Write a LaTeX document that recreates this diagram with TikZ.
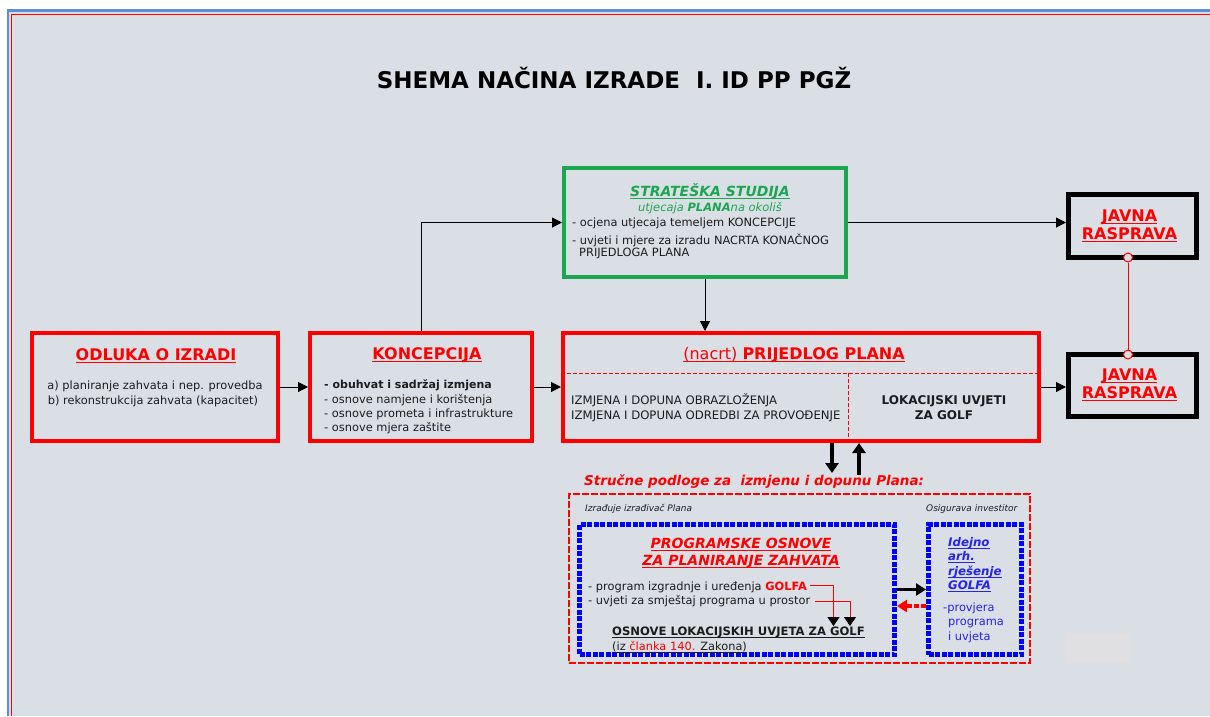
\documentclass[tikz,border=0pt]{standalone}
\usepackage{fontspec}
\setmainfont{DejaVu Sans}
\usepackage{tikz}
\usetikzlibrary{arrows.meta,calc}

\definecolor{bggrey}{RGB}{218,223,230}
\definecolor{frameblue}{RGB}{91,141,217}
\definecolor{sgreen}{RGB}{27,166,80}
\definecolor{linkblue}{RGB}{35,35,235}
\definecolor{txt}{RGB}{28,28,28}
\definecolor{patchgrey}{RGB}{224,224,226}

\newcommand{\fsz}[1]{\fontsize{#1pt}{#1pt}\selectfont}
\newsavebox{\crtabox}
\newcommand{\crta}[1]{\sbox{\crtabox}{#1}\rlap{\rule[-2.5pt]{\wd\crtabox}{1pt}}\usebox{\crtabox}}

\begin{document}
\begin{tikzpicture}[x=1pt,y=-1pt,
	okvir/.style={rectangle,inner sep=0pt,line width=4pt},
	crveniokvir/.style={okvir,draw=red},
	zeleniokvir/.style={okvir,draw=sgreen},
	crniokvir/.style={okvir,draw=black,line width=5pt},
	plaviokvir/.style={okvir,draw=blue,line width=5pt,dash pattern=on 5pt off 1.5pt},
	podlogeokvir/.style={okvir,draw=red,line width=2pt,dash pattern=on 7pt off 2pt},
	tekst/.style={inner sep=0pt,text=txt,font=\fsz{11.4},anchor=base west},
	naslov/.style={inner sep=0pt,text=red,font=\bfseries\fsz{16},anchor=base},
	strelica/.style={line width=1pt,-{Triangle[length=10pt,width=10pt]}},
	debelastrelica/.style={line width=4pt,-{Triangle[length=10pt,width=13pt]}},
	kruzic/.style={circle,draw=red,fill=bggrey,line width=1pt,inner sep=0pt,minimum size=9pt}]
	
	\useasboundingbox (0,0) rectangle (1210,716);
	\fill[white] (0,0) rectangle (1210,716);
	\fill[bggrey] (7,10) rectangle (1210,716);
	\draw[frameblue,line width=2.2pt] (7.8,716) -- (7.8,10.5) -- (1210,10.5);
	\draw[red,line width=1pt] (11.7,716) -- (11.7,14.7) -- (1210,14.7);
	\fill[patchgrey] (1065,633) rectangle (1130,663);
	
	\node[inner sep=0pt,text=black,font=\bfseries\fsz{23},anchor=base] (shema) at (614,88) {SHEMA NAČINA IZRADE\ \ I. ID PP PGŽ};
	
	\node[crveniokvir,minimum width=246.5pt,minimum height=108pt] (odluka) at (154.75,387) {};
	\node[crveniokvir,minimum width=222pt,minimum height=108pt] (koncepcija) at (421,387) {};
	\node[crveniokvir,minimum width=476pt,minimum height=108pt] (prijedlog) at (801,387) {};
	\node[zeleniokvir,minimum width=282pt,minimum height=109pt] (studija) at (705,222.5) {};
	\node[crniokvir,minimum width=128pt,minimum height=63pt] (javna1) at (1132.5,226) {};
	\node[crniokvir,minimum width=128pt,minimum height=62pt] (javna2) at (1132.5,385.5) {};
	\node[podlogeokvir,minimum width=461pt,minimum height=169pt] (podloge) at (799.5,578.5) {};
	\node[plaviokvir,minimum width=315pt,minimum height=130pt] (program) at (737,589.5) {};
	\node[plaviokvir,minimum width=93pt,minimum height=130pt] (idejno) at (975,589.5) {};
	
	\coordinate (pregrada) at (848,373);
	\draw[red,line width=0.8pt,dash pattern=on 4pt off 2pt] (prijedlog.west |- pregrada) -- (prijedlog.east |- pregrada);
	\draw[red,line width=0.8pt,dash pattern=on 4pt off 2pt] (pregrada) -- (pregrada |- prijedlog.south);
	
	\node[naslov,text=sgreen,font=\bfseries\itshape\fsz{14}] (studijanaslov) at (710,196.7) {\crta{STRATEŠKA STUDIJA}};
	\node[naslov,text=sgreen,font=\itshape\fsz{11.5}] (studijapodnaslov) at (710,211.5) {utjecaja \textbf{PLANA}na okoliš};
	\node[tekst] (ocjena) at (572,226.7) {- ocjena utjecaja temeljem KONCEPCIJE};
	\node[tekst] (uvjetimjere) at (572,244) {- uvjeti i mjere za izradu NACRTA KONAČNOG};
	\node[tekst] (nacrtplana) at (579,256.7) {PRIJEDLOGA PLANA};
	
	\node[naslov] (odlukanaslov) at (156,360.5) {\crta{ODLUKA O IZRADI}};
	\node[tekst,anchor=base] (odlukaa) at (155,389) {a) planiranje zahvata i nep. provedba};
	\node[tekst,anchor=base] (odlukab) at (153,404) {b) rekonstrukcija zahvata (kapacitet)};
	
	\node[naslov] (koncepcijanaslov) at (427,359.5) {\crta{KONCEPCIJA}};
	\node[tekst,font=\bfseries\fsz{11}] (obuhvat) at (324,388.5) {- obuhvat i sadržaj izmjena};
	\node[tekst] (namjena) at (324,403) {- osnove namjene i korištenja};
	\node[tekst] (promet) at (324,417.5) {- osnove prometa i infrastrukture};
	\node[tekst] (zastita) at (324,431.5) {- osnove mjera zaštite};
	
	\node[naslov] (prijedlognaslov) at (794,359) {\crta{\mdseries(nacrt) \bfseries PRIJEDLOG PLANA}};
	\node[tekst,font=\fsz{11.7}] (obrazlozenje) at (571,404.3) {IZMJENA I DOPUNA OBRAZLOŽENJA};
	\node[tekst,font=\fsz{11.7}] (odredbe) at (571,419) {IZMJENA I DOPUNA ODREDBI ZA PROVOĐENJE};
	\node[tekst,anchor=base,font=\bfseries\fsz{12}] (lokacijski) at (944,404) {LOKACIJSKI UVJETI};
	\node[tekst,anchor=base,font=\bfseries\fsz{12}] (zagolf) at (944,419) {ZA GOLF};
	
	\node[naslov] (javna1a) at (1129.5,221) {\crta{JAVNA}};
	\node[naslov] (javna1b) at (1129.5,239) {\crta{RASPRAVA}};
	\node[naslov] (javna2a) at (1129.5,380) {\crta{JAVNA}};
	\node[naslov] (javna2b) at (1129.5,398) {\crta{RASPRAVA}};
	
	\node[tekst,text=red,font=\bfseries\itshape\fsz{13.5}] (podlogenaslov) at (584,485.7) {Stručne podloge za\ \ izmjenu i dopunu Plana:};
	\node[tekst,font=\itshape\fsz{9}] (izradjuje) at (585,511) {Izrađuje izrađivač Plana};
	\node[tekst,font=\itshape\fsz{9}] (osigurava) at (926,511) {Osigurava investitor};
	
	\node[naslov,font=\bfseries\itshape\fsz{14}] (programnaslov) at (741,548.3) {\crta{PROGRAMSKE OSNOVE}};
	\node[naslov,font=\bfseries\itshape\fsz{14}] (zahvatnaslov) at (741,565) {\crta{ZA PLANIRANJE ZAHVATA}};
	\node[tekst] (golfa) at (588,590) {- program izgradnje i uređenja \textcolor{red}{\bfseries GOLFA}};
	\node[tekst] (smjestaj) at (588,604) {- uvjeti za smještaj programa u prostor};
	\node[tekst,font=\bfseries\fsz{11.6}] (osnovelok) at (612,635.7) {\crta{OSNOVE LOKACIJSKIH UVJETA ZA GOLF}};
	\node[tekst] (clanak) at (612,650.5) {\crta{(iz \textcolor{red}{članka 140.} Zakona)}};
	
	\node[tekst,text=linkblue,font=\bfseries\itshape\fsz{11.8}] (idejno1) at (948,546) {\crta{Idejno}};
	\node[tekst,text=linkblue,font=\bfseries\itshape\fsz{11.8}] (idejno2) at (948,560.5) {\crta{arh.}};
	\node[tekst,text=linkblue,font=\bfseries\itshape\fsz{11.8}] (idejno3) at (948,575) {\crta{rješenje}};
	\node[tekst,text=linkblue,font=\bfseries\itshape\fsz{11.8}] (idejno4) at (948,589) {\crta{GOLFA}};
	\node[tekst,text=linkblue] (provjera1) at (943,611) {-provjera};
	\node[tekst,text=linkblue] (provjera2) at (948,625.5) {programa};
	\node[tekst,text=linkblue] (provjera3) at (948,640) {i uvjeta};
	
	\draw[strelica] (odluka) -- (koncepcija);
	\draw[strelica] (koncepcija) -- (prijedlog);
	\draw[strelica] (koncepcija.north) |- (studija.west);
	\draw[strelica] (studija.south) -- (studija.south |- prijedlog.north);
	\draw[strelica] (studija.east) -- (javna1.west |- studija.east);
	\draw[strelica] (prijedlog.east) -- (javna2.west |- prijedlog.east);
	
	\node[kruzic] (jk1) at ($(javna1.south)+(-4.5,-2.5)$) {};
	\node[kruzic] (jk2) at ($(javna2.north)+(-4.5,2.5)$) {};
	\draw[red,line width=1pt] (jk1) -- (jk2);
	
	\coordinate (dolje) at (832,473);
	\coordinate (gore) at (859,475);
	\draw[debelastrelica] (prijedlog.south -| dolje) -- (dolje);
	\draw[debelastrelica] (gore) -- (gore |- prijedlog.south);
	
	\coordinate (vrh1) at (833.5,626);
	\coordinate (vrh2) at (850,626);
	\draw[red,line width=1pt,-{Triangle[length=9pt,width=12pt,color=black]}] ($(golfa.base east)+(3,-4.5)$) -| (vrh1);
	\draw[red,line width=1pt,-{Triangle[length=9pt,width=12pt,color=black]}] ($(smjestaj.base east)+(5,-2.5)$) -| (vrh2);
	
	\draw[strelica,line width=3pt,-{Triangle[length=10pt,width=12pt]}] (program.east) -- (idejno.west);
	\draw[red,line width=4pt,dash pattern=on 5pt off 2pt,-{Triangle[length=10pt,width=12pt]}] ([yshift=-16.5pt]idejno.west) -- ([yshift=-16.5pt]program.east);
	
\end{tikzpicture}
\end{document}
